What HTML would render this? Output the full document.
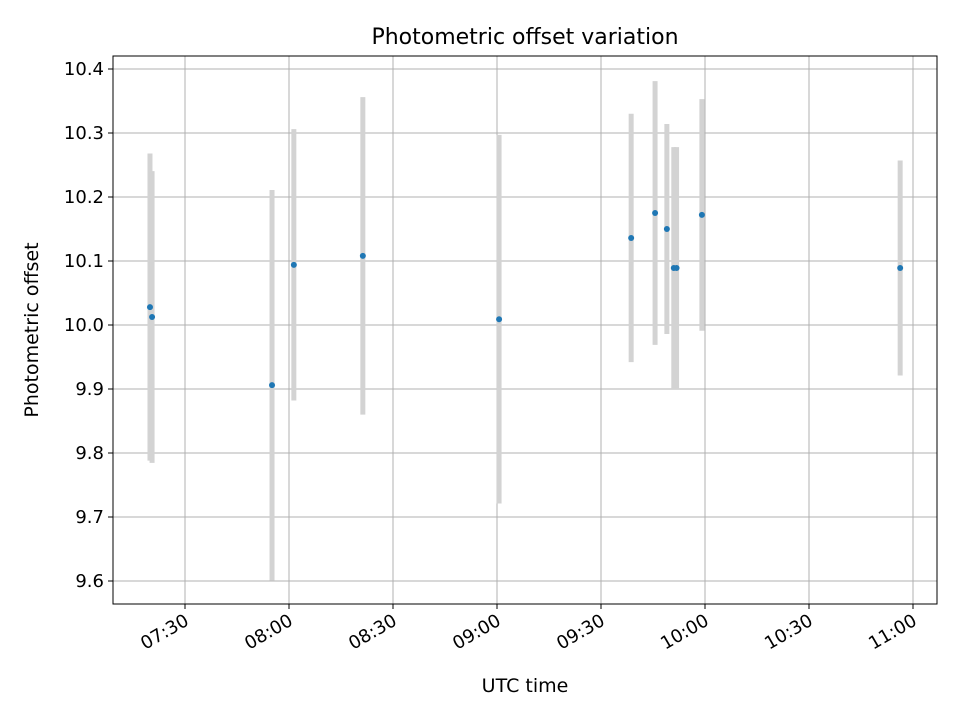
<!DOCTYPE html>
<html><head><meta charset="utf-8"><style>
body{margin:0;background:#fff;font-family:"Liberation Sans","DejaVu Sans",sans-serif}
svg text{font-family:"DejaVu Sans","Liberation Sans",sans-serif;fill:#000}
</style></head><body>
<svg id="chart" width="960" height="720" xmlns="http://www.w3.org/2000/svg">
<rect width="960" height="720" fill="#fff"/>
<text x="525" y="44" font-size="22" text-anchor="middle">Photometric offset variation</text>
<g id="grid"></g>
<g id="bars"></g>
<g id="pts"></g>
<rect x="113" y="56" width="824" height="548" fill="none" stroke="#000" stroke-width="1"/>
<g id="axes"></g>
<text x="525" y="692" font-size="19" text-anchor="middle">UTC time</text>
<text x="0" y="0" font-size="19" text-anchor="middle" transform="translate(38,330) rotate(-90)">Photometric offset</text>
</svg>
<script>
// time in minutes since 07:00 UTC
const times=[19.9,20.5,55.1,61.4,81.3,120.6,158.7,165.6,169.0,171.0,171.8,179.1,236.3];
const offsets=[10.028,10.0125,9.906,10.094,10.108,10.009,10.136,10.175,10.150,10.089,10.089,10.172,10.089];
const errors=[0.240,0.228,0.305,0.212,0.248,0.288,0.194,0.206,0.164,0.189,0.189,0.181,0.168];
const yTicks=[9.6,9.7,9.8,9.9,10.0,10.1,10.2,10.3,10.4];
const xTicks=[30,60,90,120,150,180,210,240];
const xTickLabels=["07:30","08:00","08:30","09:00","09:30","10:00","10:30","11:00"];
const NS="http://www.w3.org/2000/svg";
const X0=113,X1=937,Y0=56,Y1=604;
const xs=t=>185+(t-30)*104/30;
const ys=v=>69+(10.4-v)*640;
function mk(tag,attrs,parent){const e=document.createElementNS(NS,tag);for(const k in attrs)e.setAttribute(k,attrs[k]);parent.appendChild(e);return e;}
const grid=document.getElementById('grid'),axes=document.getElementById('axes'),bars=document.getElementById('bars'),pts=document.getElementById('pts');
yTicks.forEach(v=>{const y=ys(v);
 const g=mk('line',{x1:X0,x2:X1,y1:y,y2:y,stroke:'#b0b0b0','stroke-width':1},grid);
 
 
 mk('line',{x1:X0-5,x2:X0,y1:y,y2:y,stroke:'#000'},axes);
 const t=mk('text',{x:X0-9,y:y+6,'font-size':18,'text-anchor':'end'},axes);t.textContent=v.toFixed(1);
 
 
});
xTicks.forEach((m,i)=>{const x=xs(m);
 const g=mk('line',{x1:x,x2:x,y1:Y0,y2:Y1,stroke:'#b0b0b0','stroke-width':1},grid);
 
 
 mk('line',{x1:x,x2:x,y1:Y1,y2:Y1+5,stroke:'#000'},axes);
 const t=mk('text',{x:0,y:0,'font-size':18,'text-anchor':'end',transform:`translate(${x+5},${Y1+20}) rotate(-30)`},axes);t.textContent=xTickLabels[i];
 
 
});
times.forEach((m,i)=>{const x=xs(m);
 const b=mk('line',{x1:x,x2:x,y1:ys(offsets[i]+errors[i]),y2:ys(offsets[i]-errors[i]),stroke:'#d3d3d3','stroke-width':5},bars);
 
 
});
times.forEach((m,i)=>{
 const c=mk('circle',{cx:xs(m),cy:ys(offsets[i]),r:3,fill:'#1f77b4'},pts);
 
 
});
</script>
</body></html>
